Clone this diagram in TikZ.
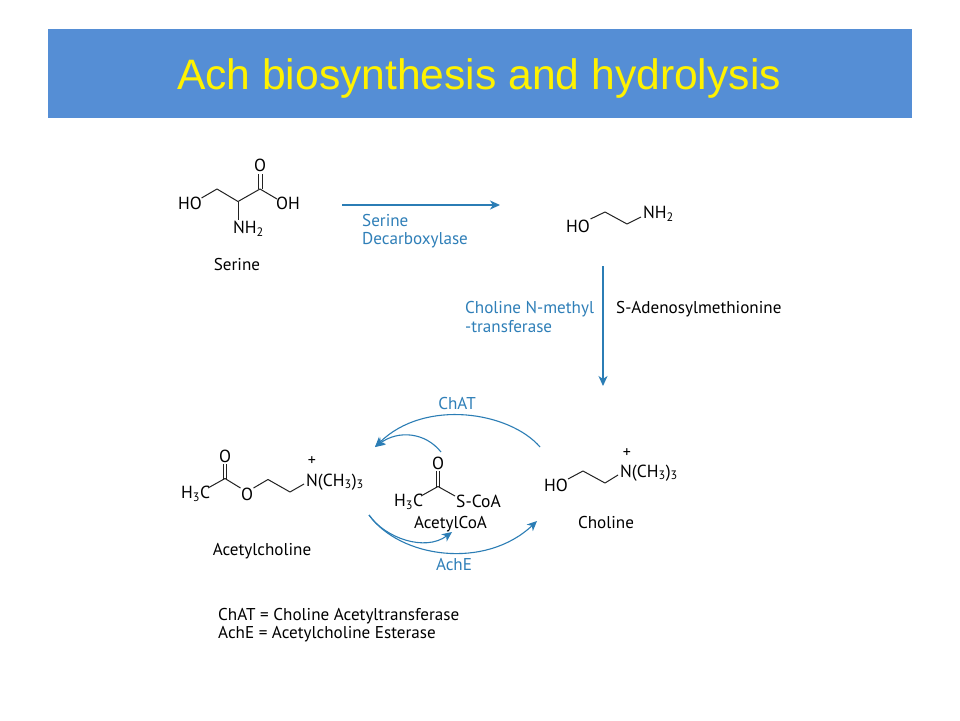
\documentclass[tikz,border=0pt]{standalone}
\usepackage{fontspec}
\setmainfont{PT Sans}
\newfontfamily\titlefont{Liberation Sans}
\usetikzlibrary{arrows.meta}
\definecolor{headblue}{HTML}{558ED5}
\definecolor{pathblue}{HTML}{2B7DB5}
\definecolor{labelblue}{HTML}{2F7FB8}
\definecolor{bondblack}{HTML}{222222}
\newcommand{\sbs}[1]{\textsubscript{#1}}
\tikzset{
  x=1pt,y=-1pt,
  txt/.style={inner sep=0pt,font=\fontsize{17.1}{19}\selectfont,text=black},
  lbl/.style={txt,anchor=west},
  enz/.style={txt,anchor=west,text=labelblue},
  atom/.style={inner sep=0pt,font=\fontsize{17.5}{20}\selectfont,text=black},
  bond/.style={draw=bondblack,line width=1pt,line join=round},
  flow/.style={draw=pathblue,line width=1.2pt,-{Stealth[length=10pt,width=9pt,inset=3pt]}},
  thin flow/.style={flow,line width=1.1pt},
}
\begin{document}
\begin{tikzpicture}
\useasboundingbox (0,0) rectangle (960,720);
\fill[white] (0,0) rectangle (960,720);
\fill[headblue] (48,29) rectangle (912,118);
\node[inner sep=0pt,text=yellow,font=\titlefont\fontsize{42.6}{46}\selectfont] (title) at (479,78) {Ach biosynthesis and hydrolysis};

% Serine
\node[atom] (serHO) at (190,203) {HO};
\node[atom] (serO) at (260,165) {O};
\node[atom] (serOH) at (288,203) {OH};
\node[atom,anchor=west] (serN) at (233,229) {NH\sbs{2}};
\node[lbl,anchor=center] (serL) at (237,265) {Serine};
\draw[bond] (201.5,198) -- (217,189) -- (238,201.5) -- (260,189) -- (277,199);
\draw[bond] (238,201.5) -- (238,220);
\draw[bond] (258.5,189) -- (258.5,173.5);
\draw[bond] (262,189) -- (262,173.5);

% Ethanolamine
\node[atom] (etHO) at (578,226) {HO};
\node[atom,anchor=west] (etN) at (643,214) {NH\sbs{2}};
\draw[bond] (590.5,219) -- (605,212) -- (627,224) -- (641,217);

% Top arrows
\coordinate (a1) at (342,205);
\coordinate (a2) at (500,205);
\coordinate (b1) at (603,266);
\coordinate (b2) at (603,386);
\draw[flow] (a1) -- (a2);
\draw[flow] (b1) -- (b2);
\node[enz] (sd1) at (362,221) {Serine};
\node[enz] (sd2) at (362,240) {Decarboxylase};
\node[enz] (cm1) at (465,309) {Choline N-methyl};
\node[enz] (cm2) at (465,327) {-transferase};
\node[lbl] (sam) at (616,309) {S-Adenosylmethionine};

% Acetylcholine
\node[atom,anchor=west] (achC) at (181,494) {H\sbs{3}C};
\node[atom] (achO) at (225,456) {O};
\node[atom] (achOe) at (247,494) {O};
\node[atom,anchor=west] (achN) at (306,482) {N(CH\sbs{3})\sbs{3}};
\node[atom,font=\fontsize{16}{17}\selectfont] (achP) at (312,461) {+};
\node[lbl,anchor=center] (achL) at (262,551) {Acetylcholine};
\draw[bond] (208,488) -- (225,478.5) -- (240.5,488);
\draw[bond] (253.5,488) -- (268,479.5) -- (290,492) -- (304,484);
\draw[bond] (223.3,479) -- (223.3,463.5);
\draw[bond] (226.7,479) -- (226.7,463.5);

% AcetylCoA
\node[atom,anchor=west] (coaC) at (394,502) {H\sbs{3}C};
\node[atom] (coaO) at (438,463) {O};
\node[atom,anchor=west] (coaS) at (456,501) {S-CoA};
\node[lbl,anchor=center] (coaL) at (450.5,524) {AcetylCoA};
\draw[bond] (421,496) -- (438,486.5) -- (455,496);
\draw[bond] (436.3,487) -- (436.3,471);
\draw[bond] (439.7,487) -- (439.7,471);

% Choline
\node[atom] (chHO) at (556,485) {HO};
\node[atom,anchor=west] (chN) at (620,473) {N(CH\sbs{3})\sbs{3}};
\node[atom,font=\fontsize{16}{17}\selectfont] (chP) at (627,453) {+};
\node[lbl,anchor=center] (chL) at (606,523) {Choline};
\draw[bond] (568,479) -- (583,471) -- (605,483) -- (618,475);

% Cycle arrows
\coordinate (chat1) at (540,447);
\coordinate (chat2) at (375,447);
\coordinate (coa1) at (441,452);
\coordinate (ache1) at (369,515);
\coordinate (ache2) at (537,521);
\coordinate (coa2) at (452,532);
\draw[thin flow] (chat1) .. controls (510,412) and (425,398) .. (chat2);
\draw[thin flow] (coa1) .. controls (425,432) and (398,430) .. (chat2);
\draw[thin flow] (ache1) .. controls (400,558) and (485,570) .. (ache2);
\draw[thin flow] (ache1) .. controls (385,538) and (425,552) .. (coa2);
\node[enz,anchor=center] (chatL) at (457,404) {ChAT};
\node[enz,anchor=center] (acheL) at (454,565) {AchE};

% Legend
\node[lbl] (leg1) at (218,616) {ChAT = Choline Acetyltransferase};
\node[lbl] (leg2) at (218,634) {AchE = Acetylcholine Esterase};
\end{tikzpicture}
\end{document}
